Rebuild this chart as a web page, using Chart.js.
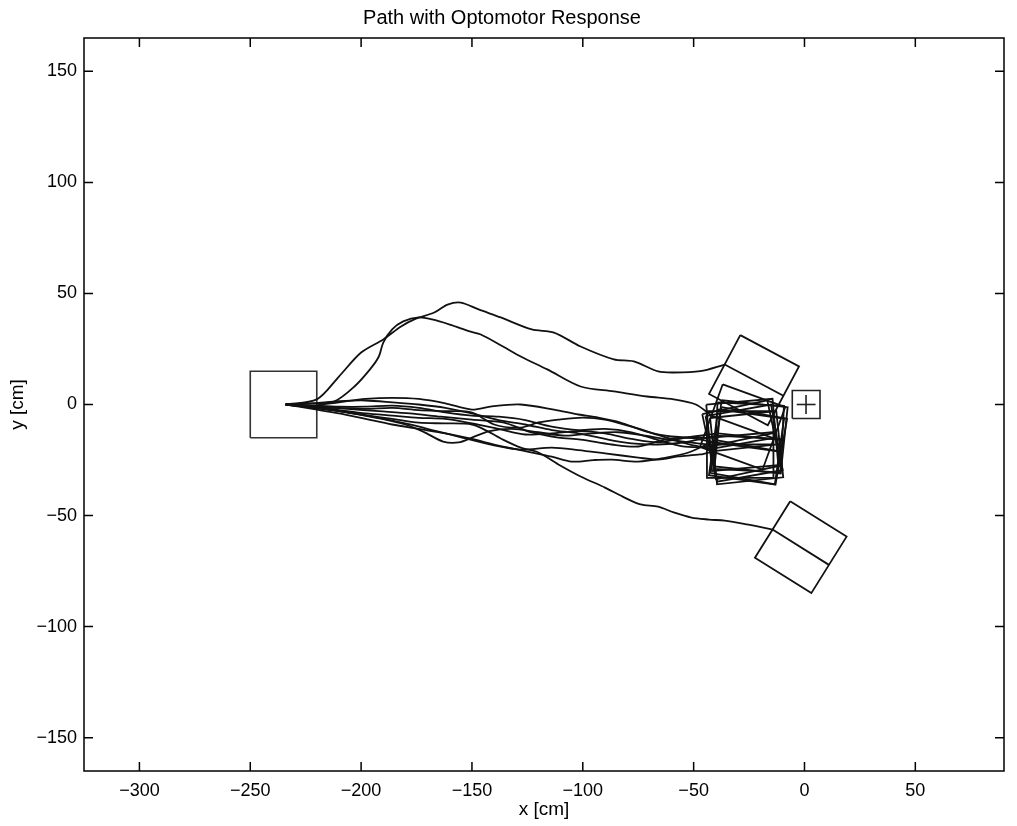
<!DOCTYPE html>
<html>
<head>
<meta charset="utf-8">
<script src="https://cdn.jsdelivr.net/npm/chart.js@4.4.1/dist/chart.umd.min.js"></script>
<style>
    html, body { margin: 0; padding: 0; background: #fff; }
    #wrap { width: 1017px; height: 826px; position: relative; }
</style>
</head>
<body>
<div id="wrap"><canvas id="path_chart"></canvas></div>
<script>

// PATHS (x, y in cm), all start at the release point
const path_a = [[-234,0],[-220,2.3],[-210,12.6],[-200,23.4],[-190,29.3],[-182,35.1],[-176,38.3],[-167,41.4],[-161,45],[-155,45.9],[-147,42.8],[-137,39.2],[-123,33.8],[-113,32.4],[-101,26.1],[-86,20.3],[-77,19.4],[-66,14.9],[-59,14.4],[-47,15],[-36,18]];
const path_b = [[-234,0],[-222,0.5],[-212,1.4],[-203,8.1],[-196,15.8],[-192,21.6],[-190,27.9],[-186,33.8],[-181,37.4],[-174,39.2],[-168,38.3],[-160,36],[-151,32.9],[-146,31.5],[-136,26.1],[-128,21.6],[-116,15.8],[-101,8.1],[-86,5.9],[-71,3.6],[-59,2.3],[-49,0],[-42,-5]];
const path_c = [[-234,0],[-222,-1.2],[-210,-3],[-198,-4.8],[-186,-6.5],[-174,-8.2],[-162,-8.5],[-150,-9],[-143,-12],[-136,-15.8],[-128,-19.4],[-120,-21.6],[-111,-27],[-101,-32.4],[-90,-37.4],[-82,-41.5],[-74,-45],[-66,-46],[-59,-48.6],[-51,-50.9],[-43,-51.8],[-36,-52.3],[-26,-54],[-14.4,-56.3]];
const path_1 = [[-234,0],[-222,-0.5],[-210,1],[-198,2.5],[-186,3],[-174,2.5],[-162,0.5],[-150,-2.3],[-141,-0.8],[-128,0],[-113,-2.3],[-102,-4.5],[-93,-5.9],[-83,-8.1],[-72,-12],[-60,-14.4],[-43,-15]];
const path_2 = [[-234,0],[-222,-1],[-210,-1.5],[-198,-2],[-186,-1.5],[-174,-2.5],[-162,-3],[-150,-3.6],[-140,-9],[-128,-10.4],[-120,-8.1],[-111,-6.8],[-100,-5.9],[-90,-6.8],[-78,-10],[-65,-14],[-52,-18],[-42,-20]];
const path_3 = [[-234,0],[-220,-1],[-206,-2],[-192,-3],[-178,-4],[-164,-5.5],[-150,-6.8],[-136,-8.1],[-123,-12.6],[-111,-14.9],[-101,-15.8],[-87,-18],[-75,-18.9],[-63,-15.8],[-52,-15],[-41,-17]];
const path_4 = [[-234,0],[-222,-1.5],[-210,-3],[-196,-5.5],[-186,-7.5],[-180,-9],[-172,-12.2],[-163,-16.7],[-156,-17.1],[-150,-14.9],[-142,-12],[-132,-11],[-120,-12.5],[-108,-14],[-96,-13],[-84,-12.5],[-72,-14],[-60,-16],[-44,-18]];
const path_5 = [[-234,0],[-220,-1.5],[-206,-3.5],[-192,-6],[-178,-9],[-166,-12],[-154,-15],[-142,-18],[-128,-20.3],[-114,-19.4],[-102,-20.5],[-90,-22],[-75,-23.9],[-66,-24.8],[-57,-23.4],[-47,-22.5],[-41,-21]];
const path_6 = [[-234,0],[-222,-2],[-210,-4],[-198,-6.5],[-186,-9],[-174,-11],[-162,-13],[-150,-15.5],[-138,-18.5],[-126,-21],[-114,-23.5],[-105,-25.7],[-95,-25],[-87,-24.8],[-75,-25.7],[-63,-24],[-52,-21.5],[-40,-16]];
const path_7 = [[-234,0],[-222,-0.5],[-210,-1],[-198,-1],[-186,-0.5],[-174,-1.5],[-162,-3.5],[-150,-5],[-138,-5.5],[-126,-7],[-114,-10],[-102,-11.5],[-90,-11],[-78,-12.5],[-66,-16],[-54,-19],[-43,-19]];
const path_8 = [[-234,0],[-222,0.5],[-210,1.5],[-198,1.8],[-186,1],[-174,0],[-162,-1.5],[-150,-4],[-138,-7],[-126,-9],[-114,-11.5],[-102,-13],[-90,-15.5],[-78,-17.5],[-66,-18],[-54,-17],[-40,-14]];
const path_9 = [[-234,0],[-222,-1],[-210,-2.5],[-198,-4],[-186,-5],[-174,-6],[-162,-6.5],[-150,-8.5],[-138,-11],[-126,-13.5],[-114,-13],[-102,-12],[-90,-13],[-78,-15.5],[-66,-17],[-54,-15],[-39,-13]];

const paths = [path_a, path_b, path_c, path_1, path_2, path_3, path_4, path_5, path_6, path_7, path_8, path_9];

// heading at the end of each path (degrees), same order as paths
const end_headings = [-28, -20, -32, 5, 10, -8, 0, 6, -10, 12, -3, -6];
const box_size = 30;

// START AREA AND TARGET
const start_box_x = [-250, -220, -220, -250, -250];
const start_box_y = [-15, -15, 15, 15, -15];
const target_box_x = [-5.5, 7, 7, -5.5, -5.5];
const target_box_y = [-6.3, -6.3, 6.3, 6.3, -6.3];
const cross_h_x = [-3.5, 5];
const cross_h_y = [0, 0];
const cross_v_x = [0.7, 0.7];
const cross_v_y = [-4.3, 4.3];

// AXES
const x_ticks = [-300, -250, -200, -150, -100, -50, 0, 50];
const y_ticks = [-150, -100, -50, 0, 50, 100, 150];


const font_family = "'Liberation Sans', Arial, Helvetica, sans-serif";

function to_points(xs, ys) {
    return xs.map((x, i) => ({x: x, y: ys[i]}));
}

function line_set(points, width, color, tension) {
    return {
        data: points,
        showLine: true,
        fill: false,
        borderColor: color || '#111',
        borderWidth: width || 1.8,
        pointRadius: 0,
        tension: tension || 0
    };
}

// square drawn ahead of the end point, with a centre line along the heading
function heading_box(end, heading) {
    const a = heading * Math.PI / 180;
    const dx = Math.cos(a), dy = Math.sin(a);
    const nx = -dy, ny = dx;
    const h = box_size / 2;
    const px = end[0], py = end[1];
    const square = [
        {x: px + h * nx, y: py + h * ny},
        {x: px + h * nx + box_size * dx, y: py + h * ny + box_size * dy},
        {x: px - h * nx + box_size * dx, y: py - h * ny + box_size * dy},
        {x: px - h * nx, y: py - h * ny},
        {x: px + h * nx, y: py + h * ny}
    ];
    const centre = [
        {x: px, y: py},
        {x: px + box_size * dx, y: py + box_size * dy}
    ];
    return [square, centre];
}

const datasets = [];

paths.forEach(function(p){
    datasets.push(line_set(p.map(pt => ({x: pt[0], y: pt[1]})), 1.8, '#111', 0.3));
});

paths.forEach(function(p, i){
    const parts = heading_box(p[p.length - 1], end_headings[i]);
    datasets.push(line_set(parts[0], 1.8, '#111'));
    datasets.push(line_set(parts[1], 1.8, '#111'));
});

datasets.push(line_set(to_points(start_box_x, start_box_y), 1.6, '#333'));
datasets.push(line_set(to_points(target_box_x, target_box_y), 1.6, '#222'));
datasets.push(line_set(to_points(cross_h_x, cross_h_y), 1.6, '#222'));
datasets.push(line_set(to_points(cross_v_x, cross_v_y), 1.6, '#222'));


// MATLAB STYLE FRAME WITH INWARD TICKS
const matlab_frame = {
    id: 'matlab_frame',
    afterDatasetsDraw(chart) {
        const ctx = chart.ctx;
        const area = chart.chartArea;
        const tick_len = 9;
        ctx.save();
        ctx.strokeStyle = '#000';
        ctx.lineWidth = 1.5;
        ctx.strokeRect(area.left, area.top, area.right - area.left, area.bottom - area.top);
        ctx.beginPath();
        chart.scales.x.ticks.forEach(function(t){
            const px = chart.scales.x.getPixelForValue(t.value);
            ctx.moveTo(px, area.bottom);
            ctx.lineTo(px, area.bottom - tick_len);
            ctx.moveTo(px, area.top);
            ctx.lineTo(px, area.top + tick_len);
        });
        chart.scales.y.ticks.forEach(function(t){
            const py = chart.scales.y.getPixelForValue(t.value);
            ctx.moveTo(area.left, py);
            ctx.lineTo(area.left + tick_len, py);
            ctx.moveTo(area.right, py);
            ctx.lineTo(area.right - tick_len, py);
        });
        ctx.stroke();
        ctx.restore();
    }
};

const minus_sign = value => String(value).replace('-', '\u2212');

const config = {
    type: 'scatter',
    data: { datasets: datasets },
    options: {
        responsive: true,
        maintainAspectRatio: false,
        animation: false,
        layout: { padding: { left: 0, right: 13, top: 0, bottom: 0 } },
        plugins: {
            legend: { display: false },
            tooltip: { enabled: false },
            title: {
                display: true,
                text: 'Path with Optomotor Response',
                color: '#000',
                font: { family: font_family, size: 20, weight: 'normal' },
                padding: { top: 6, bottom: 8 }
            }
        },
        scales: {
            x: {
                type: 'linear',
                min: -325,
                max: 90,
                afterBuildTicks: scale => { scale.ticks = x_ticks.map(v => ({value: v})); },
                afterFit: scale => { scale.height = 55; },
                grid: { display: false, drawTicks: false },
                border: { display: false },
                ticks: {
                    color: '#000',
                    padding: 9,
                    maxRotation: 0,
                    font: { family: font_family, size: 18 },
                    callback: minus_sign
                },
                title: {
                    display: true,
                    text: 'x [cm]',
                    color: '#000',
                    font: { family: font_family, size: 19 },
                    padding: { top: 0, bottom: 5 }
                }
            },
            y: {
                type: 'linear',
                min: -165,
                max: 165,
                afterBuildTicks: scale => { scale.ticks = y_ticks.map(v => ({value: v})); },
                afterFit: scale => { scale.width = 84; },
                grid: { display: false, drawTicks: false },
                border: { display: false },
                ticks: {
                    color: '#000',
                    padding: 7,
                    font: { family: font_family, size: 18 },
                    callback: minus_sign
                },
                title: {
                    display: true,
                    text: 'y [cm]',
                    color: '#000',
                    font: { family: font_family, size: 19 },
                    padding: { top: 6, bottom: 0 }
                }
            }
        }
    },
    plugins: [matlab_frame]
};

const path_chart = new Chart(document.getElementById('path_chart'), config);

</script>
</body>
</html>
